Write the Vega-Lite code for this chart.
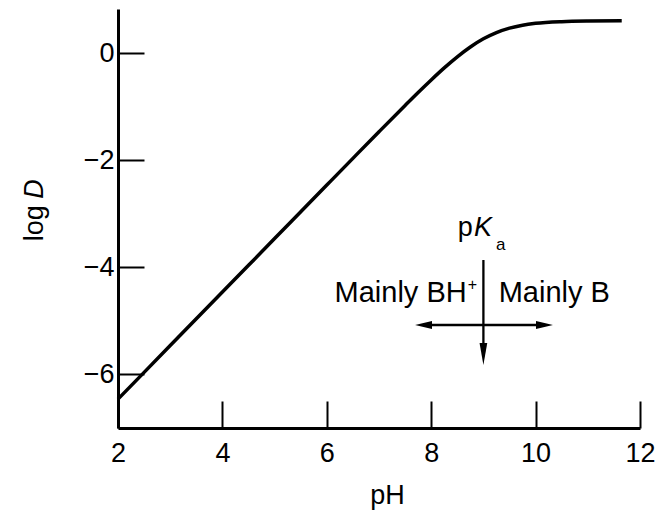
{
  "$schema": "https://vega.github.io/schema/vega-lite/v6.json",
  "width": 522,
  "height": 419,
  "autosize": {"type": "none"},
  "padding": {"left": 118, "top": 9, "right": 21, "bottom": 82},
  "background": "white",
  "config": {"view": {"stroke": null}, "font": "Liberation Sans"},
  "encoding": {
    "x": {
      "field": "pH",
      "type": "quantitative",
      "scale": {"domain": [2, 12], "nice": false, "zero": false},
      "axis": {
        "values": [2, 4, 6, 8, 10, 12],
        "grid": false,
        "tickSize": -27,
        "tickWidth": 2,
        "tickColor": "black",
        "domainColor": "black",
        "domainWidth": 3,
        "labelFont": "Liberation Sans",
        "labelFontSize": 27,
        "labelColor": "black",
        "labelPadding": 39,
        "labelFlush": false,
        "title": "pH",
        "titleFont": "Liberation Sans",
        "titleFontSize": 27,
        "titleFontWeight": "normal",
        "titleColor": "black",
        "titleX": 269,
        "titleY": 75,
        "titleBaseline": "alphabetic"
      }
    },
    "y": {
      "field": "logD",
      "type": "quantitative",
      "scale": {"domain": [-7, 0.83], "nice": false, "zero": false},
      "axis": {
        "values": [0, -2, -4, -6],
        "grid": false,
        "tickSize": -26,
        "tickWidth": 2,
        "tickColor": "black",
        "domainColor": "black",
        "domainWidth": 3,
        "labelFont": "Liberation Sans",
        "labelFontSize": 27,
        "labelColor": "black",
        "labelPadding": 30,
        "labelFlush": false,
        "title": null
      }
    }
  },
  "layer": [
    {
      "data": {"values": [
        {"pH": 2, "logD": -6.46},
        {"pH": 2.5, "logD": -5.96},
        {"pH": 3, "logD": -5.46},
        {"pH": 4, "logD": -4.46},
        {"pH": 5, "logD": -3.46},
        {"pH": 6, "logD": -2.46},
        {"pH": 6.5, "logD": -1.961},
        {"pH": 7, "logD": -1.464},
        {"pH": 7.5, "logD": -0.972},
        {"pH": 7.75, "logD": -0.73},
        {"pH": 8, "logD": -0.496},
        {"pH": 8.25, "logD": -0.271},
        {"pH": 8.5, "logD": -0.064},
        {"pH": 8.75, "logD": 0.12},
        {"pH": 9, "logD": 0.273},
        {"pH": 9.25, "logD": 0.39},
        {"pH": 9.5, "logD": 0.473},
        {"pH": 9.75, "logD": 0.528},
        {"pH": 10, "logD": 0.562},
        {"pH": 10.5, "logD": 0.594},
        {"pH": 11, "logD": 0.605},
        {"pH": 11.65, "logD": 0.609}
      ]},
      "mark": {"type": "line", "color": "black", "strokeWidth": 3.5, "interpolate": "monotone"}
    },
    {
      "data": {"values": [
        {"pH": 9.0, "logD": -3.861, "pH2": 9.0, "logD2": -5.62},
        {"pH": 7.853, "logD": -5.075, "pH2": 10.17, "logD2": -5.075}
      ]},
      "mark": {"type": "rule", "color": "black", "strokeWidth": 2.3},
      "encoding": {
        "x2": {"field": "pH2"},
        "y2": {"field": "logD2"}
      }
    },
    {
      "data": {"values": [
        {"pH": 9.0, "logD": -5.617, "dir": "down"},
        {"pH": 7.853, "logD": -5.075, "dir": "left"},
        {"pH": 10.17, "logD": -5.075, "dir": "right"}
      ]},
      "mark": {"type": "point", "filled": true, "color": "black", "opacity": 1, "size": 484, "strokeWidth": 0},
      "encoding": {
        "shape": {
          "field": "dir",
          "type": "nominal",
          "legend": null,
          "scale": {
            "domain": ["down", "left", "right"],
            "range": ["M-0.35,-1L0,1L0.35,-1Z", "M0.77,-0.36L-0.77,0L0.77,0.36Z", "M-0.77,-0.36L0.77,0L-0.77,0.36Z"]
          }
        }
      }
    },
    {
      "data": {"values": [{"pH": 8.68, "logD": -4.64, "label": "Mainly BH"}]},
      "mark": {"type": "text", "align": "right", "baseline": "alphabetic", "fontSize": 29, "color": "black"},
      "encoding": {"text": {"field": "label"}}
    },
    {
      "data": {"values": [{"pH": 9.293, "logD": -4.64, "label": "Mainly B"}]},
      "mark": {"type": "text", "align": "left", "baseline": "alphabetic", "fontSize": 29, "color": "black"},
      "encoding": {"text": {"field": "label"}}
    },
    {
      "data": {"values": [{"pH": 8.79, "logD": -4.414, "label": "+"}]},
      "mark": {"type": "text", "align": "center", "baseline": "alphabetic", "fontSize": 16, "color": "black"},
      "encoding": {"text": {"field": "label"}}
    },
    {
      "data": {"values": [{"pH": 8.51, "logD": -3.407, "label": "p"}]},
      "mark": {"type": "text", "align": "left", "baseline": "alphabetic", "fontSize": 27, "color": "black"},
      "encoding": {"text": {"field": "label"}}
    },
    {
      "data": {"values": [{"pH": 8.82, "logD": -3.407, "label": "K"}]},
      "mark": {"type": "text", "align": "left", "baseline": "alphabetic", "fontSize": 27, "fontStyle": "italic", "color": "black"},
      "encoding": {"text": {"field": "label"}}
    },
    {
      "data": {"values": [{"pH": 9.24, "logD": -3.674, "label": "a"}]},
      "mark": {"type": "text", "align": "left", "baseline": "alphabetic", "fontSize": 17, "color": "black"},
      "encoding": {"text": {"field": "label"}}
    },
    {
      "data": {"values": [{"pH": 0.569, "logD": -3.175, "label": "log"}]},
      "mark": {"type": "text", "align": "center", "baseline": "alphabetic", "angle": 270, "fontSize": 27, "color": "black"},
      "encoding": {"text": {"field": "label"}}
    },
    {
      "data": {"values": [{"pH": 0.569, "logD": -2.534, "label": "D"}]},
      "mark": {"type": "text", "align": "center", "baseline": "alphabetic", "angle": 270, "fontSize": 27, "fontStyle": "italic", "color": "black"},
      "encoding": {"text": {"field": "label"}}
    }
  ]
}
